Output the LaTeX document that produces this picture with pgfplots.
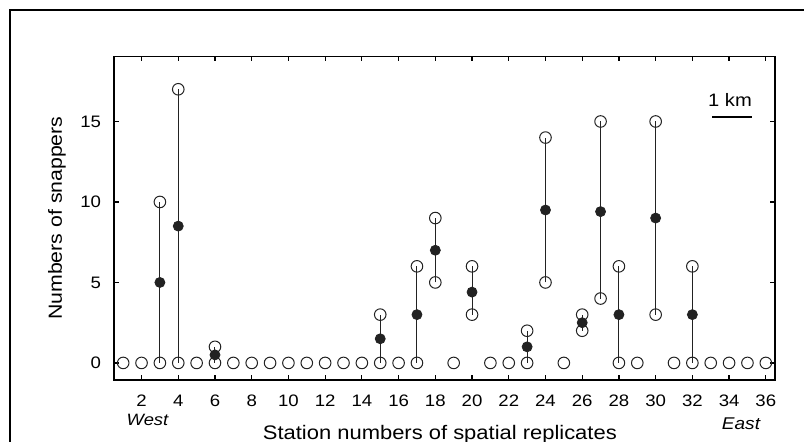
\documentclass[border=0pt]{standalone}
\usepackage{fontspec}
\setmainfont{Liberation Sans}[FakeStretch=1.12]
\usepackage{pgfplots}
\pgfplotsset{compat=1.18}
\definecolor{ink}{HTML}{222222}
\begin{document}
\begin{tikzpicture}[x=1pt,y=1pt]
\useasboundingbox (0,0) rectangle (402,221);
\clip (0,0) rectangle (402,221);
% outer frame of the scanned figure
\draw[line width=1pt] (5,-5) -- (5,216) -- (410,216);
\begin{axis}[
  at={(57pt,31pt)}, anchor=south west,
  scale only axis, width=330.5pt, height=161.85pt,
  xmin=0.5, xmax=36.5, ymin=-1.06, ymax=19.05,
  xtick={2,4,...,36}, ytick={0,5,10,15},
  tick align=inside, major tick length=2.5pt,
  axis line style={line width=0.75pt},
  every tick/.style={line width=0.6pt, black},
  tick label style={font=\fontsize{8.3}{10}\selectfont},
  /pgf/number format/assume math mode=true,
  xticklabel style={yshift=-4pt},
  yticklabel style={xshift=-3pt},
  xlabel={Station numbers of spatial replicates},
  ylabel={Numbers of snappers},
  every axis x label/.style={at={(axis description cs:0.493,-0.1823)}, anchor=base,
    font=\fontsize{9.8}{12}\selectfont},
  every axis y label/.style={at={(axis description cs:-0.0862,0.5)}, rotate=90, anchor=center,
    font=\fontsize{9.5}{12}\selectfont},
  unbounded coords=jump,
  clip=false,
]
% range (min to max) of replicates
\addplot[ink, line width=0.5pt, mark=none] coordinates {
  (3,0)(3,10)(3,nan)
  (4,0)(4,17)(4,nan)
  (6,0)(6,1)(6,nan)
  (15,0)(15,3)(15,nan)
  (17,0)(17,6)(17,nan)
  (18,5)(18,9)(18,nan)
  (20,3)(20,6)(20,nan)
  (23,0)(23,2)(23,nan)
  (24,5)(24,14)(24,nan)
  (26,2)(26,3)(26,nan)
  (27,4)(27,15)(27,nan)
  (28,0)(28,6)(28,nan)
  (30,3)(30,15)(30,nan)
  (32,0)(32,6)
};
% min and max values
\addplot[only marks, mark=o, mark size=2.9pt,
  mark options={draw=ink, fill=white, line width=0.5pt}] coordinates {
  (1,0)(2,0)(3,0)(3,10)(4,0)(4,17)(5,0)(6,0)(6,1)
  (7,0)(8,0)(9,0)(10,0)(11,0)(12,0)(13,0)(14,0)
  (15,0)(15,3)(16,0)(17,0)(17,6)(18,5)(18,9)(19,0)
  (20,3)(20,6)(21,0)(22,0)(23,0)(23,2)(24,5)(24,14)
  (25,0)(26,2)(26,3)(27,4)(27,15)(28,0)(28,6)(29,0)
  (30,3)(30,15)(31,0)(32,0)(32,6)(33,0)(34,0)(35,0)(36,0)
};
% mean values
\addplot[only marks, mark=*, mark size=2.5pt,
  mark options={draw=ink, fill=ink}] coordinates {
  (3,5)(4,8.5)(6,0.5)(15,1.5)(17,3)(18,7)(20,4.4)
  (23,1)(24,9.5)(26,2.5)(27,9.4)(28,3)(30,9)(32,3)
};
\end{axis}
\node[font=\fontsize{8.2}{10}\selectfont\itshape, anchor=base] at (73.75,8) {West};
\node[font=\fontsize{8.5}{10}\selectfont\itshape, anchor=base] at (370.5,6) {East};
\node[font=\fontsize{9}{11}\selectfont, anchor=base] at (365,167.5) {1 km};
\draw[line width=0.6pt] (356,162.5) -- (376,162.5);
\end{tikzpicture}
\end{document}
